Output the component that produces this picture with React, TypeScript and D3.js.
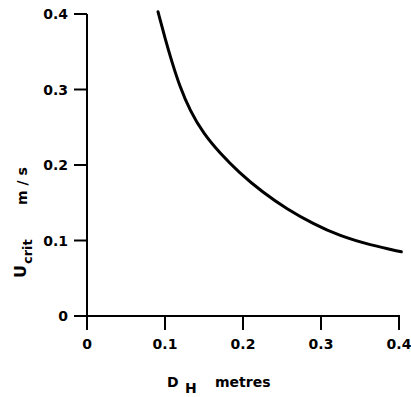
import React from "react";
import * as d3 from "d3";

const dH = [0.091, 0.100, 0.109, 0.119, 0.132, 0.149, 0.171, 0.194, 0.226, 0.256, 0.290, 0.324, 0.363, 0.403];
const uCrit = [0.403, 0.368, 0.336, 0.304, 0.272, 0.242, 0.215, 0.191, 0.163, 0.142, 0.122, 0.106, 0.094, 0.085];
const xTicks = [0, 0.1, 0.2, 0.3, 0.4];
const yTicks = [0, 0.1, 0.2, 0.3, 0.4];
const xTickLabels = ["0", "0.1", "0.2", "0.3", "0.4"];
const yTickLabels = ["0", "0.1", "0.2", "0.3", "0.4"];

export default function App() {
  const x = d3.scaleLinear().domain([0, 0.4]).range([87, 399]);
  const y = d3.scaleLinear().domain([0, 0.4]).range([316, 14]);
  const pts: [number, number][] = dH.map((d, i) => [d, uCrit[i]]);
  const line = d3
    .line<[number, number]>()
    .x((d) => x(d[0]))
    .y((d) => y(d[1]))
    .curve(d3.curveBasis);
  const font = "'DejaVu Sans', sans-serif";
  return (
    <svg
      width={411}
      height={397}
      style={{ position: "absolute", left: 0, top: 0, background: "#fff" }}
      fontFamily={font}
    >
      {/* axes */}
      <line x1={x(0)} y1={y(0.4)} x2={x(0)} y2={y(0)} stroke="#000" strokeWidth={2} />
      <line x1={74} y1={y(0)} x2={x(0.4) + 1} y2={y(0)} stroke="#000" strokeWidth={2} />
      {yTicks.map((t, i) => (
        <g key={"y" + i}>
          <line x1={74} x2={x(0)} y1={y(t)} y2={y(t)} stroke="#000" strokeWidth={2} />
          <text
            x={68}
            y={y(t)}
            dy="0.36em"
            textAnchor="end"
            fontSize={14}
            fontWeight={700}
          >
            {yTickLabels[i]}
          </text>
        </g>
      ))}
      {xTicks.map((t, i) => (
        <g key={"x" + i}>
          <line x1={x(t)} x2={x(t)} y1={y(0)} y2={y(0) + 14} stroke="#000" strokeWidth={2} />
          <text
            x={x(t)}
            y={349}
            textAnchor="middle"
            fontSize={14}
            fontWeight={700}
          >
            {xTickLabels[i]}
          </text>
        </g>
      ))}
      {/* curve */}
      <path d={line(pts) || ""} fill="none" stroke="#000" strokeWidth={3} strokeLinecap="round" />
      {/* x label */}
      <text x={167} y={387} fontSize={14} fontWeight={700}>D</text>
      <text x={185} y={393} fontSize={14} fontWeight={700}>H</text>
      <text x={215} y={387} fontSize={14} fontWeight={700}>metres</text>
      {/* y label */}
      <g transform="translate(26,278) rotate(-90)" fontWeight={700}>
        <text x={0} y={0} fontSize={16}>U</text>
        <text x={14} y={6} fontSize={13}>crit</text>
        <text x={73} y={1} fontSize={14}>m / s</text>
      </g>
    </svg>
  );
}
